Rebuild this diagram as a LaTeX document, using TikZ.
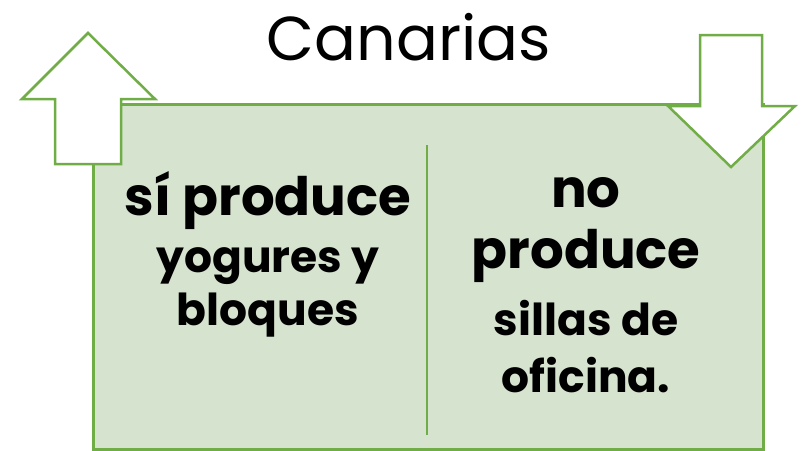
\documentclass[tikz,border=0pt]{standalone}
\usepackage{fontspec}
\setmainfont{Poppins}
\usetikzlibrary{positioning}
\definecolor{leafgreen}{RGB}{112,173,71}
\definecolor{leaffill}{RGB}{214,227,207}

\begin{document}
\begin{tikzpicture}[
        x=1pt, y=-1pt,
        panel/.style={rectangle, draw=leafgreen, fill=leaffill, line width=2.5pt, minimum width=670pt, minimum height=345pt, inner sep=0pt},
        bigarrow/.style={draw=leafgreen, fill=white, line width=2.5pt},
        divider/.style={draw=leafgreen, line width=2.2pt},
        headline/.style={font=\fontsize{62}{70}\selectfont, inner sep=0pt, anchor=base},
        bigtext/.style={font=\fontsize{53}{60}\selectfont\bfseries, inner sep=0pt, anchor=base},
        smalltext/.style={font=\fontsize{44}{50}\selectfont\bfseries, inner sep=0pt, anchor=base}
    ]
        \useasboundingbox (0,0) rectangle (810,450);
        \node[panel, anchor=north west] (box) at (92,103) {};
        % flechas
        \draw[bigarrow] (88,33) -- (155,99) -- (121,99) -- (121,164) -- (55,164) -- (55,99) -- (22,99) -- cycle;
        \draw[bigarrow] (700,35) -- (762,35) -- (762,106) -- (795,106) -- (731,167) -- (668,106) -- (700,106) -- cycle;
        \draw[divider] (427,145) -- (427,435);
        \node[headline] (title) at (409,60) {Canarias};
        % columna izquierda
        \node[bigtext] (si) at (268,215) {sí produce};
        \node[smalltext, below=57pt of si.base, anchor=base] (yog) {yogures y};
        \node[smalltext, below=53pt of yog.base, anchor=base] (blo) {bloques};
        % columna derecha
        \node[bigtext] (no) at (586,207) {no};
        \node[bigtext, below=61pt of no.base, anchor=base] (prod) {produce};
        \node[smalltext, below=67pt of prod.base, anchor=base] (sil) {sillas de};
        \node[smalltext, below=57pt of sil.base, anchor=base] (ofi) {oficina.};
    \end{tikzpicture}
\end{document}
